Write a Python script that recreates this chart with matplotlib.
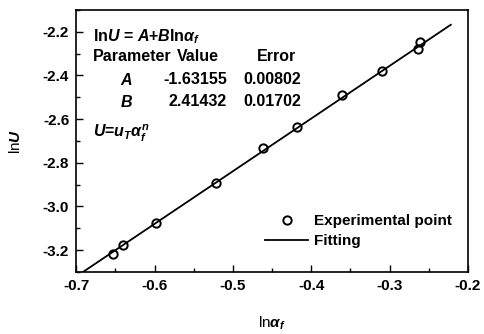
import numpy as np
import matplotlib
matplotlib.use('Agg')
import matplotlib.pyplot as plt
from matplotlib.ticker import MultipleLocator, FormatStrFormatter

plt.rcParams['font.family'] = 'Liberation Sans'
plt.rcParams['font.weight'] = 'bold'
plt.rcParams['mathtext.fontset'] = 'custom'
plt.rcParams['mathtext.rm'] = 'Liberation Sans:bold'
plt.rcParams['mathtext.it'] = 'Liberation Sans:italic:bold'
plt.rcParams['mathtext.bf'] = 'Liberation Sans:bold'

# measured points
ln_af = [-0.6535, -0.6407, -0.5987, -0.521, -0.461, -0.4185, -0.3605, -0.3096, -0.2611, -0.2637]
ln_u = [-3.218, -3.177, -3.076, -2.893, -2.732, -2.636, -2.489, -2.379, -2.246, -2.278]

# linear fit lnU = A + B*ln(af)
fit_a = -1.63155
fit_b = 2.41432
fit_err_a = 0.00802
fit_err_b = 0.01702
fit_range = [-0.7, -0.222]

fig = plt.figure(figsize=(4.85, 3.34), dpi=100)
ax = fig.add_axes([0.157, 0.186, 0.808, 0.784])

xx = np.array(fit_range)
ln_fit, = ax.plot(xx, fit_a + fit_b * xx, color='black', lw=1.3)
pts, = ax.plot(ln_af, ln_u, 'o', mfc='none', mec='black', mew=1.4, ms=6)

ax.set_xlim(-0.7, -0.2)
ax.set_ylim(-3.3, -2.1)
ax.xaxis.set_major_locator(MultipleLocator(0.1))
ax.xaxis.set_minor_locator(MultipleLocator(0.05))
ax.yaxis.set_major_locator(MultipleLocator(0.2))
ax.yaxis.set_minor_locator(MultipleLocator(0.1))
ax.xaxis.set_major_formatter(FormatStrFormatter('%.1f'))
ax.yaxis.set_major_formatter(FormatStrFormatter('%.1f'))
ax.tick_params(which='both', direction='in', labelsize=11, width=1, pad=5)
ax.tick_params(which='major', length=5)
ax.tick_params(which='minor', length=3)
for s in ax.spines.values():
    s.set_linewidth(1.2)

ax.set_xlabel(r'ln$\alpha_f$', fontsize=11, labelpad=16)
ax.set_ylabel(r'ln$U$', fontsize=11, labelpad=14)

# fit results table
kw = dict(transform=ax.transAxes, fontsize=11.5, va='center')
ax.text(0.043, 0.897, r'ln$U$ = $A$+$B$ln$\alpha_f$', **kw)
ax.text(0.043, 0.822, 'Parameter', **kw)
ax.text(0.258, 0.822, 'Value', **kw)
ax.text(0.462, 0.822, 'Error', **kw)
rows = [('A', fit_a, fit_err_a), ('B', fit_b, fit_err_b)]
for i, (name, val, err) in enumerate(rows):
    y = 0.733 - i * 0.084
    ax.text(0.112, y, '$%s$' % name, **kw)
    ax.text(0.385, y, '%.5f' % val, ha='right', **kw)
    ax.text(0.426, y, '%.5f' % err, **kw)
ax.text(0.043, 0.53, r'$U$=$u_T\alpha_f^n$', **kw)

ax.legend([pts, ln_fit], ['Experimental point', 'Fitting'],
          loc='lower right', bbox_to_anchor=(0.985, 0.05), frameon=False,
          fontsize=11, handlelength=2.8, handletextpad=0.35, labelspacing=0.4,
          borderpad=0.2)

fig.savefig('out.png', dpi=100)
